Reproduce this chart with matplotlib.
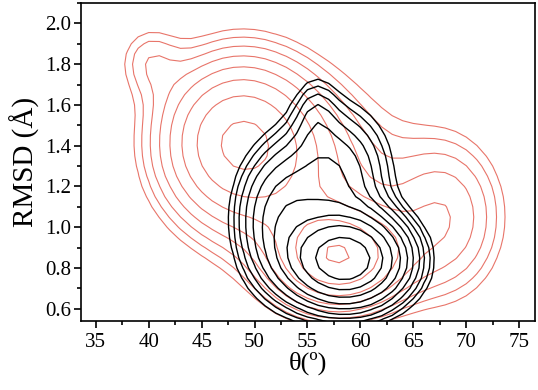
import numpy as np
import matplotlib
matplotlib.use('Agg')
import matplotlib.pyplot as plt
from matplotlib.ticker import MultipleLocator

# Gaussian components: centre theta, centre RMSD, width theta, width RMSD, weight
red_theta = [48.5, 58.0, 68.0, 40.0, 55.0]
red_rmsd = [1.42, 0.85, 1.05, 1.82, 1.25]
red_sth = [4.5, 4.0, 3.5, 2.0, 6.0]
red_srm = [0.25, 0.16, 0.25, 0.12, 0.30]
red_w = [1.0, 0.95, 0.35, 0.15, 0.30]
red_levels = np.geomspace(0.085, 0.9, 8)

black_theta = [58.5, 52.5, 57.5, 55.8]
black_rmsd = [0.84, 1.05, 1.25, 1.55]
black_sth = [3.2, 2.5, 3.0, 1.3]
black_srm = [0.13, 0.20, 0.20, 0.12]
black_w = [1.0, 0.20, 0.18, 0.06]
black_levels = np.geomspace(0.03, 0.75, 10)

theta_grid = np.arange(34, 77, 1.0)
rmsd_grid = np.arange(0.45, 2.1, 0.05)
TH, RM = np.meshgrid(theta_grid, rmsd_grid)


def density(cth, crm, sth, srm, w):
    z = np.zeros_like(TH)
    for a, b, c, d, e in zip(cth, crm, sth, srm, w):
        z += e * np.exp(-0.5 * (((TH - a) / c) ** 2 + ((RM - b) / d) ** 2))
    return z / z.max()


z_red = density(red_theta, red_rmsd, red_sth, red_srm, red_w)
z_black = density(black_theta, black_rmsd, black_sth, black_srm, black_w)

plt.rcParams['font.family'] = 'Liberation Serif'
fig = plt.figure(figsize=(5.38, 3.90), dpi=100)
ax = fig.add_axes([81 / 538, 1 - 321 / 390, (535 - 81) / 538, (321 - 3) / 390])

ax.contour(TH, RM, z_red, levels=red_levels, colors='#e8756a', linewidths=0.8)
ax.contour(TH, RM, z_black, levels=black_levels, colors='black', linewidths=1.0)

ax.set_xlim(33.6, 76.5)
ax.set_ylim(0.54, 2.10)
ax.xaxis.set_major_locator(MultipleLocator(5))
ax.xaxis.set_minor_locator(MultipleLocator(2.5))
ax.yaxis.set_major_locator(MultipleLocator(0.2))
ax.yaxis.set_minor_locator(MultipleLocator(0.1))
ax.yaxis.set_major_formatter(matplotlib.ticker.FormatStrFormatter('%.1f'))
ax.tick_params(which='both', direction='out', labelsize=15, width=1.2)
ax.tick_params(which='major', length=5)
ax.tick_params(which='minor', length=3)
ax.tick_params(axis='y', pad=2)
for s in ax.spines.values():
    s.set_linewidth(1.2)

ax.set_xlabel('θ(º)', fontsize=19, labelpad=0)
ax.set_ylabel('RMSD (Å)', fontsize=21, labelpad=4)

fig.savefig('out.png', dpi=100)
